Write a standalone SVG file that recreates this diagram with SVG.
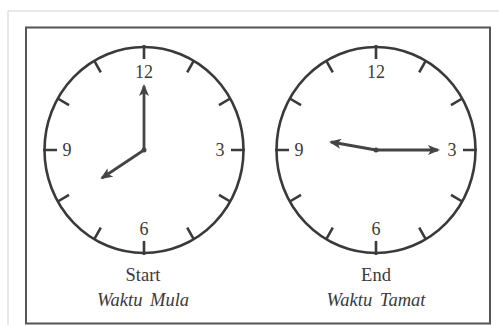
<svg xmlns="http://www.w3.org/2000/svg" width="499" height="325" viewBox="0 0 499 325">
<style>
.face{fill:none;stroke:#3a3a3a;stroke-width:2.6}
.tick{stroke:#3a3a3a;stroke-width:2.6;fill:none}
.num{font-family:"Liberation Serif",serif;font-size:18px;fill:#3a3a3a;text-anchor:middle}
.lbl{font-family:"Liberation Serif",serif;font-size:18.5px;fill:#3a3a3a;text-anchor:middle}
.it{font-style:italic;word-spacing:3px}
.hand{stroke:#444;stroke-width:2.8;fill:none;marker-end:url(#ah)}
</style>
<defs>
<marker id="ah" viewBox="0 0 12 10" refX="10" refY="5" markerWidth="12" markerHeight="10" markerUnits="userSpaceOnUse" orient="auto">
<path d="M0,0 L12,5 L0,10 L3,5 z" fill="#444"/>
</marker>
<g id="face">
<ellipse class="face" cx="0" cy="0" rx="99.5" ry="103"/>
<path class="tick" d="M0,-105 V-91 M101,0 H87 M0,105 V91 M-101,0 H-87 M49.7,-89.2 L43.2,-77.6 M86.2,-51.5 L75,-44.8 M86.2,51.5 L75,44.8 M49.7,89.2 L43.2,77.6 M-49.7,89.2 L-43.2,77.6 M-86.2,51.5 L-75,44.8 M-86.2,-51.5 L-75,-44.8 M-49.7,-89.2 L-43.2,-77.6"/>
<text class="num" x="0" y="-72">12</text>
<text class="num" x="76" y="6">3</text>
<text class="num" x="0" y="85">6</text>
<text class="num" x="-77" y="6">9</text>
<circle cx="0" cy="0" r="2.5" fill="#444"/>
</g>
</defs>
<g id="frame">
<path d="M8,11 H499 M8,11 V325" stroke="#d2d2d2" stroke-width="1" fill="none"/>
<rect x="26" y="27.5" width="464" height="296" fill="none" stroke="#555" stroke-width="2"/>
</g>
<g id="clock-start" transform="translate(144,150)">
<use href="#face"/>
</g>
<g id="clock-end" transform="translate(376,150)">
<use href="#face"/>
</g>
<g id="connectors">
<path class="hand" d="M144,150 L144,86"/>
<path class="hand" d="M144,150 L102,178"/>
<path class="hand" d="M376,150 L438,150"/>
<path class="hand" d="M376,150 L331,142"/>
</g>
<g id="label-start">
<text class="lbl" x="143" y="281">Start</text>
<text class="lbl it" x="143" y="306">Waktu Mula</text>
</g>
<g id="label-end">
<text class="lbl" x="376" y="281">End</text>
<text class="lbl it" x="376" y="306">Waktu Tamat</text>
</g>
</svg>
